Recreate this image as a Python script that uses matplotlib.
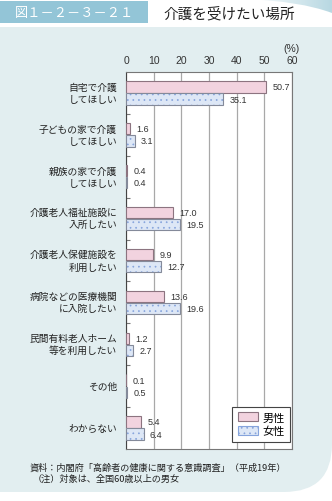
import matplotlib
matplotlib.use('Agg')
import matplotlib.pyplot as plt
import numpy as np
from matplotlib.path import Path
from matplotlib.patches import PathPatch, Rectangle, Patch
from matplotlib.colors import LinearSegmentedColormap

plt.rcParams['font.family'] = ['Noto Sans CJK JP', 'DejaVu Sans']
plt.rcParams['hatch.linewidth'] = 0.5

# ---- data ----
categories = ["自宅で介護\nしてほしい", "子どもの家で介護\nしてほしい", "親族の家で介護\nしてほしい",
              "介護老人福祉施設に\n入所したい", "介護老人保健施設を\n利用したい",
              "病院などの医療機関\nに入院したい", "民間有料老人ホーム\n等を利用したい",
              "その他", "わからない"]
male = [50.7, 1.6, 0.4, 17.0, 9.9, 13.6, 1.2, 0.1, 5.4]
female = [35.1, 3.1, 0.4, 19.5, 12.7, 19.6, 2.7, 0.5, 6.4]
series_names = ["男性", "女性"]
xticks = [0, 10, 20, 30, 40, 50, 60]

W, H = 332, 502
fig = plt.figure(figsize=(W / 100, H / 100), dpi=100)
fig.patch.set_facecolor('white')

# ---- background decorations ----
bg = fig.add_axes([0, 0, 1, 1], zorder=-5)
bg.set_xlim(0, W)
bg.set_ylim(H, 0)
bg.axis('off')

panel_color = '#e2eef0'
R = 48
bot = 493
verts = [(0, 28), (W, 28), (W, bot - R), (W, bot), (W - R, bot), (0, bot), (0, 28)]
codes = [Path.MOVETO, Path.LINETO, Path.LINETO, Path.CURVE3, Path.CURVE3, Path.LINETO, Path.CLOSEPOLY]
bg.add_patch(PathPatch(Path(verts, codes), facecolor=panel_color, edgecolor='none'))

# header box
bg.add_patch(Rectangle((0, 2), 148, 22, facecolor='#93c5d7', edgecolor='none'))
bg.text(74, 13.5, "図１－２－３－２１", color='white', fontsize=9.5, ha='center', va='center')
bg.text(163, 14, "介護を受けたい場所", color='#222222', fontsize=10.5, ha='left', va='center')

# swoosh at top right
sv = [(245, 0), (W, 0), (W, 14), (300, 2), (245, 0)]
sc = [Path.MOVETO, Path.LINETO, Path.LINETO, Path.CURVE3, Path.CURVE3]
sp = PathPatch(Path(sv, sc), facecolor='none', edgecolor='none')
bg.add_patch(sp)
grad = np.linspace(0, 1, 100).reshape(1, -1)
cm = LinearSegmentedColormap.from_list('sw', ['#ffffff', '#b8d8e2'])
im = bg.imshow(grad, extent=[245, W, 14, 0], cmap=cm, aspect='auto', zorder=1)
im.set_clip_path(sp)
bg.set_xlim(0, W)
bg.set_ylim(H, 0)

# footnotes
bg.text(30, 468.5, "資料：内閣府「高齢者の健康に関する意識調査」（平成19年）",
        fontsize=6.6, ha='left', va='center', color='#222222')
bg.text(33, 479.5, "（注）対象は、全国60歳以上の男女",
        fontsize=6.6, ha='left', va='center', color='#222222')
bg.text(291, 49, "(%)", fontsize=7.5, ha='center', va='center', color='#333333',
        family=['Liberation Sans'])

# ---- main axes ----
left, right, top, bottom = 126, 292, 73, 450
ax = fig.add_axes([left / W, 1 - bottom / H, (right - left) / W, (bottom - top) / H])
ax.set_facecolor('white')
n = len(categories)
y = np.arange(n)
ax.set_xlim(0, 60)
ax.set_ylim(n - 0.5, -0.5)

ax.set_axisbelow(True)
ax.xaxis.tick_top()
ax.set_xticks(xticks)
ax.set_xticklabels([str(t) for t in xticks], family=['Liberation Sans'])
ax.tick_params(axis='x', length=0, pad=5, labelsize=7.5, labelcolor='#333333')
ax.grid(axis='x', color='#a8a8a8', lw=0.9)
ax.set_yticks([])
ax.set_yticks(np.arange(n - 1) + 0.5, minor=True)
ax.tick_params(axis='y', which='minor', direction='in', length=3, color='#777777', width=0.8)
for s in ax.spines.values():
    s.set_color('#777777')
    s.set_linewidth(0.8)
ax.spines['left'].set_color('#444444')

bh = 0.27
off = 0.145
ax.barh(y - off, male, height=bh, color='#f2d3df', edgecolor='#8c7480', lw=0.8, zorder=3)
ax.barh(y + off, female, height=bh, color='#dde7f6', edgecolor='#86a4dc', hatch='...', lw=0, zorder=3)
ax.barh(y + off, female, height=bh, fill=False, edgecolor='#848a9a', lw=0.8, zorder=4)

for i in range(n):
    ax.annotate(f"{male[i]:.1f}", (male[i], y[i] - off), xytext=(4.5, 0), textcoords='offset points',
                va='center', ha='left', fontsize=6.5, color='#333333', family=['Liberation Sans'])
    ax.annotate(f"{female[i]:.1f}", (female[i], y[i] + off), xytext=(4.5, 0), textcoords='offset points',
                va='center', ha='left', fontsize=6.5, color='#333333', family=['Liberation Sans'])
    lines = categories[i].split("\n")
    if len(lines) == 2:
        pos = [y[i] - 0.15, y[i] + 0.14]
    else:
        pos = [y[i]]
    for ln, p in zip(lines, pos):
        ax.annotate(ln, (0, p), xytext=(-6.5, 0), textcoords='offset points',
                    va='center', ha='right', fontsize=7, color='#222222', annotation_clip=False)

handles = [Patch(facecolor='#f2d3df', edgecolor='#8c7480', lw=0.8),
           Patch(facecolor='#dde7f6', edgecolor='#86a4dc', hatch='...', lw=0.8)]
leg = ax.legend(handles, series_names, loc='lower right',
                bbox_to_anchor=((290 - left) / (right - left), (bottom - 443) / (bottom - top)),
                fontsize=8, frameon=True, fancybox=False, framealpha=1, edgecolor='#444444',
                borderpad=0.5, handlelength=1.8, handleheight=0.9, handletextpad=0.4,
                labelspacing=0.3, borderaxespad=0)
leg.get_frame().set_linewidth(0.8)
leg.set_zorder(10)

fig.savefig('out.png', dpi=100, facecolor='white')
